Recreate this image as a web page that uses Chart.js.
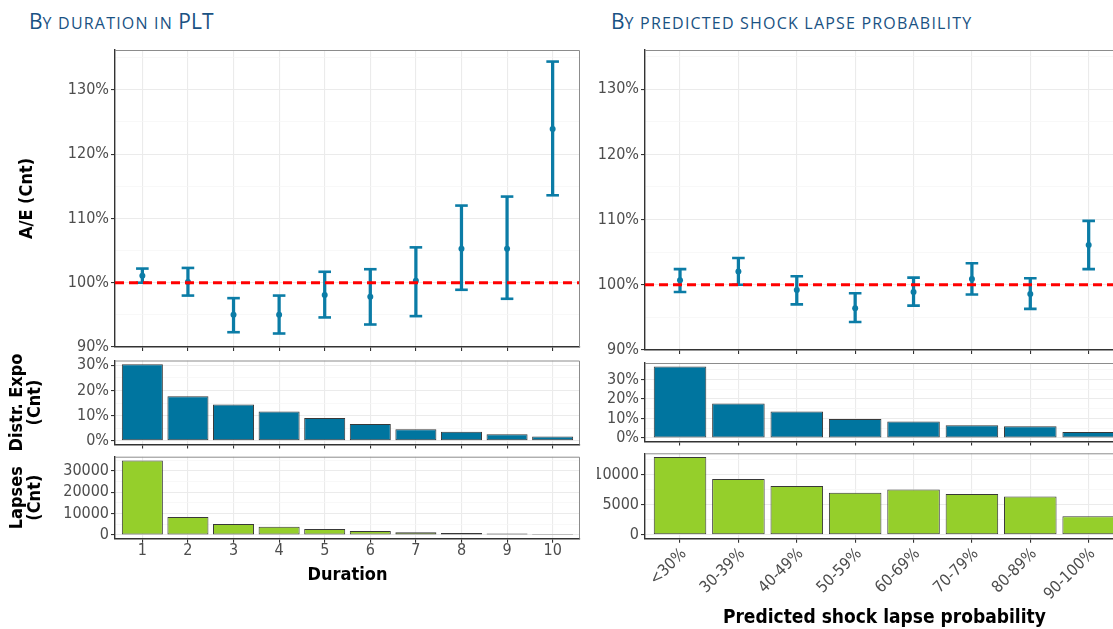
<!DOCTYPE html>
<html>
<head>
<meta charset="utf-8">
<script src="https://cdn.jsdelivr.net/npm/chart.js@4.4.1/dist/chart.umd.min.js"></script>
<style>
  html, body { margin: 0; padding: 0; background: #fff; }
  body { width: 1113px; height: 629px; position: relative; overflow: hidden; }
  canvas { position: absolute; }
  .title {
    position: absolute; top: 11px; margin: 0;
    font-family: 'Open Sans', sans-serif; font-size: 21px; line-height: 21px;
    font-weight: 400; color: #1a5283; white-space: nowrap;
  }
  .title .sc { font-size: 16px; letter-spacing: 1.2px; text-transform: uppercase; }
  #right { position: absolute; left: 597px; top: 0; width: 516px; height: 629px; overflow: hidden; }
</style>
</head>
<body>
<div class="title" style="left:29px">B<span class="sc">y duration in </span>PLT</div>
<div class="title" style="left:611px">B<span class="sc">y predicted shock lapse probability</span></div>

<canvas id="aeDur" width="600" height="320" style="left:0;top:40px"></canvas>
<canvas id="expoDur" width="600" height="112" style="left:0;top:345px"></canvas>
<canvas id="lapDur" width="600" height="184" style="left:0;top:445px"></canvas>

<div id="right">
  <canvas id="aeProb" width="600" height="320" style="left:-60px;top:40px"></canvas>
  <canvas id="expoProb" width="600" height="104" style="left:-60px;top:350px"></canvas>
  <canvas id="lapProb" width="600" height="189" style="left:-60px;top:440px"></canvas>
</div>

<script>
// ---- data: by duration ----
const durLabels = ['1', '2', '3', '4', '5', '6', '7', '8', '9', '10'];
const durAE     = [101.1, 100.1, 95.0, 95.0, 98.1, 97.8, 100.3, 105.3, 105.3, 123.9];
const durAELow  = [100.0, 98.0, 92.3, 92.1, 94.6, 93.5, 94.8, 98.9, 97.5, 113.6];
const durAEHigh = [102.2, 102.3, 97.6, 98.0, 101.7, 102.1, 105.5, 112.0, 113.4, 134.4];
const durExpo   = [30.4, 17.7, 14.4, 11.6, 9.0, 6.6, 4.6, 3.6, 2.6, 1.7];
const durLapses = [34900, 8400, 5150, 3900, 2800, 1900, 1250, 950, 650, 500];

// ---- data: by predicted shock lapse probability ----
const probLabels = ['<30%', '30-39%', '40-49%', '50-59%', '60-69%', '70-79%', '80-89%', '90-100%'];
const probAE     = [100.7, 102.05, 99.2, 96.4, 98.9, 100.9, 98.6, 106.1];
const probAELow  = [98.9, 100.0, 97.0, 94.3, 96.8, 98.5, 96.3, 102.4];
const probAEHigh = [102.4, 104.1, 101.3, 98.7, 101.1, 103.3, 101.0, 109.8];
const probExpo   = [36.6, 17.7, 13.6, 9.7, 8.5, 6.5, 6.0, 3.1];
const probLapses = [12870, 9230, 8070, 6960, 7510, 6740, 6350, 3090];

// ---- tick labels (major); minor grid lines sit halfway between ----
const aeTicks = [90, 100, 110, 120, 130];
const expoTicks = [0, 10, 20, 30];
const durLapseTicks = [0, 10000, 20000, 30000];
const probLapseTicks = [0, 5000, 10000];
const aeRef = 100;

const BLUE = '#00759f';
const ERR = '#0b7ca6';
const GREEN = '#95cf2b';
const FAMILY = "'DejaVu Sans Condensed', 'DejaVu Sans', sans-serif";
const tickFont = { family: FAMILY, size: 16, lineHeight: 1 };
const titleFont = { family: FAMILY, size: 18, weight: 'bold', lineHeight: 1 };

// top + right edges of the panel (left/bottom are the axis lines)
const framePlugin = {
  id: 'frame',
  afterDatasetsDraw(chart) {
    const { ctx, chartArea: a } = chart;
    ctx.save();
    ctx.strokeStyle = '#8c8c8c';
    ctx.lineWidth = 1;
    ctx.beginPath();
    ctx.moveTo(a.left, a.top + 0.5);
    ctx.lineTo(a.right - 0.5, a.top + 0.5);
    ctx.lineTo(a.right - 0.5, a.bottom);
    ctx.stroke();
    ctx.restore();
  }
};

function pts(arr) { return arr.map((v, i) => ({ x: i + 1, y: v })); }

function gridValues(majors, min, max) {
  const half = (majors[1] - majors[0]) / 2;
  const out = [];
  if (majors[0] - half >= min) out.push(majors[0] - half);
  majors.forEach(m => {
    if (m >= min && m <= max) out.push(m);
    if (m + half <= max) out.push(m + half);
  });
  return out;
}

function yAxis(o) {
  const isMajor = c => c.tick && o.majors.includes(c.tick.value);
  return {
    type: 'linear', position: 'left', min: o.min, max: o.max, beginAtZero: false,
    afterFit: s => { s.width = o.width; },
    afterBuildTicks: s => { s.ticks = gridValues(o.majors, o.min, o.max).map(v => ({ value: v })); },
    ticks: {
      autoSkip: false, padding: 2, color: '#4d4d4d', font: tickFont,
      callback: v => o.majors.includes(v) ? o.fmt(v) : ''
    },
    grid: {
      color: c => isMajor(c) ? '#ebebeb' : '#f5f5f5',
      lineWidth: c => isMajor(c) ? 1.1 : 0.7,
      tickColor: c => isMajor(c) ? '#333' : 'rgba(0,0,0,0)',
      tickLength: 4
    },
    border: { color: '#333', width: 1.4 },
    title: o.title ? { display: true, text: o.title, color: '#000', font: titleFont,
                       padding: { top: o.titlePad, bottom: 0 } } : { display: false }
  };
}

function xAxis(o) {
  return {
    type: 'linear', position: 'bottom', min: 0.4, max: o.labels.length + 0.6,
    offset: false,
    afterFit: s => { s.height = o.height; },
    afterBuildTicks: s => { s.ticks = o.labels.map((_, i) => ({ value: i + 1 })); },
    ticks: {
      autoSkip: false, padding: o.tickPad || 0, color: '#4d4d4d', font: tickFont,
      maxRotation: o.rot || 0, minRotation: o.rot || 0, labelOffset: o.labelOffset || 0,
      callback: v => o.showLabels ? (o.labels[v - 1] || '') : ''
    },
    grid: { offset: false, color: '#ebebeb', lineWidth: 1.1, tickColor: '#333', tickLength: 4 },
    border: { color: '#333', width: 1.4 },
    title: o.title ? { display: true, text: o.title, color: '#000',
                       font: Object.assign({}, titleFont, o.titleSize ? { size: o.titleSize } : {}),
                       padding: { top: 0, bottom: o.titlePad } } : { display: false }
  };
}

function baseOptions(canvas, area, xHeight, scales) {
  return {
    responsive: false,
    animation: false,
    events: [],
    layout: {
      padding: {
        left: 0,
        top: area.top,
        right: canvas.width - area.right,
        bottom: canvas.height - area.bottom - xHeight
      }
    },
    plugins: { legend: { display: false }, tooltip: { enabled: false } },
    scales: scales
  };
}

function aeChart(id, labels, mid, lo, hi, area, yOpts) {
  const canvas = document.getElementById(id);
  const n = labels.length;
  return new Chart(canvas, {
    type: 'bar',
    data: {
      datasets: [
        { type: 'line', data: [{ x: 0.4, y: aeRef }, { x: n + 0.6, y: aeRef }],
          borderColor: '#ff0000', borderWidth: 3, borderDash: [9, 5], pointRadius: 0, order: 0 },
        { type: 'scatter', data: pts(mid), pointStyle: 'circle', pointRadius: 3,
          backgroundColor: ERR, borderWidth: 0, order: 1 },
        { type: 'scatter', data: pts(lo).concat(pts(hi)), pointStyle: 'line', pointRadius: 6.3,
          borderColor: ERR, borderWidth: 2.6, order: 2 },
        { type: 'bar', data: labels.map((_, i) => ({ x: i + 1, y: [lo[i], hi[i]] })),
          backgroundColor: ERR, borderWidth: 0, barThickness: 2.6, order: 3 }
      ]
    },
    options: baseOptions(canvas, area, 6, {
      x: xAxis({ labels: labels, height: 6, showLabels: false }),
      y: yAxis(yOpts)
    }),
    plugins: [framePlugin]
  });
}

function barChart(id, labels, values, color, area, xOpts, yOpts) {
  const canvas = document.getElementById(id);
  return new Chart(canvas, {
    type: 'bar',
    data: {
      datasets: [{
        data: pts(values), backgroundColor: color, borderColor: '#383838', borderWidth: 1,
        borderSkipped: false, categoryPercentage: 1, barPercentage: 0.9
      }]
    },
    options: baseOptions(canvas, area, xOpts.height, {
      x: xAxis(Object.assign({ labels: labels }, xOpts)),
      y: yAxis(yOpts)
    }),
    plugins: [framePlugin]
  });
}

const pct = v => v + '%';
const num = v => String(v);

// ---- left: by duration ----
aeChart('aeDur', durLabels, durAE, durAELow, durAEHigh,
  { top: 10, right: 580, bottom: 307 },
  { min: 90, max: 136.2, majors: aeTicks, fmt: pct, width: 115, title: 'A/E (Cnt)', titlePad: 18 });

barChart('expoDur', durLabels, durExpo, BLUE,
  { top: 15.5, right: 580, bottom: 99.5 },
  { height: 6, showLabels: false },
  { min: -1.52, max: 31.92, majors: expoTicks, fmt: pct, width: 115,
    title: ['Distr. Expo', '(Cnt)'], titlePad: 8 });

barChart('lapDur', durLabels, durLapses, GREEN,
  { top: 11.7, right: 580, bottom: 93.7 },
  { height: 90.3, showLabels: true, title: 'Duration', titlePad: 45 },
  { min: -1745, max: 36645, majors: durLapseTicks, fmt: num, width: 115,
    title: ['Lapses', '(Cnt)'], titlePad: 8 });

// ---- right: by predicted shock lapse probability ----
aeChart('aeProb', probLabels, probAE, probAELow, probAEHigh,
  { top: 10, right: 586.7, bottom: 310.7 },
  { min: 90, max: 136, majors: aeTicks, fmt: pct, width: 108 });

barChart('expoProb', probLabels, probExpo, BLUE,
  { top: 13, right: 586.7, bottom: 91.5 },
  { height: 6, showLabels: false },
  { min: -1.8, max: 38.4, majors: expoTicks, fmt: pct, width: 108 });

barChart('lapProb', probLabels, probLapses, GREEN,
  { top: 13.3, right: 586.7, bottom: 98.7 },
  { height: 90.3, showLabels: true, rot: 45, tickPad: 3, labelOffset: 4,
    title: 'Predicted shock lapse probability', titleSize: 19, titlePad: 1.2 },
  { min: -650, max: 13500, majors: probLapseTicks, fmt: num, width: 108 });
</script>
</body>
</html>
